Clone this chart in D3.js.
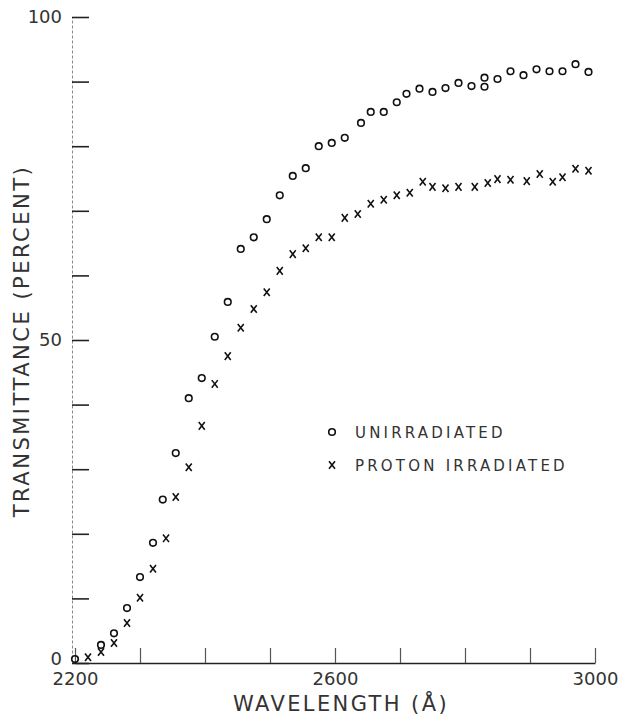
<!DOCTYPE html>
<html>
<head>
<meta charset="utf-8">
<script src="https://cdn.jsdelivr.net/npm/d3@7"></script>
<style>
  body { margin: 0; background: #fff; }
  svg text { font-family: "DejaVu Sans", sans-serif; fill: #333; }
</style>
</head>
<body>
<svg id="chart" width="626" height="723"></svg>
<script>
// wavelength (angstrom) / transmittance (percent)
const unirrWave = [2200, 2240, 2260, 2280, 2300, 2320, 2335, 2355, 2375, 2395,
    2415, 2435, 2455, 2475, 2495, 2515, 2535, 2555, 2575, 2595,
    2615, 2640, 2655, 2675, 2695, 2710, 2730, 2750, 2770, 2790,
    2810, 2830, 2830, 2850, 2870, 2890, 2910, 2930, 2950, 2970, 2990];
const unirrTrans = [0.6, 2.8, 4.6, 8.5, 13.3, 18.6, 25.3, 32.5, 41.0, 44.1,
    50.5, 55.9, 64.1, 65.9, 68.7, 72.4, 75.4, 76.6, 80.0, 80.5,
    81.3, 83.6, 85.3, 85.3, 86.8, 88.1, 88.9, 88.4, 89.0, 89.8,
    89.3, 90.6, 89.2, 90.4, 91.6, 91.0, 91.9, 91.6, 91.6, 92.7, 91.5];

const protonWave = [2220, 2240, 2260, 2280, 2300, 2320, 2340, 2355, 2375, 2395,
    2415, 2435, 2455, 2475, 2495, 2515, 2535, 2555, 2575, 2595,
    2615, 2635, 2655, 2675, 2695, 2715, 2735, 2750, 2770, 2790,
    2815, 2835, 2850, 2870, 2895, 2915, 2935, 2950, 2970, 2990];
const protonTrans = [0.9, 1.7, 3.1, 6.2, 10.1, 14.6, 19.3, 25.7, 30.3, 36.7,
    43.2, 47.5, 51.9, 54.8, 57.4, 60.7, 63.3, 64.2, 65.9, 65.9,
    68.9, 69.5, 71.1, 71.7, 72.4, 72.8, 74.5, 73.7, 73.5, 73.7,
    73.7, 74.3, 74.9, 74.8, 74.6, 75.7, 74.5, 75.2, 76.5, 76.2];

const xTicks = [2200, 2300, 2400, 2500, 2600, 2700, 2800, 2900, 3000];
const xLabels = [2200, 2600, 3000];
const yTicks = [0, 10, 20, 30, 40, 50, 60, 70, 80, 90, 100];
const yLabels = [0, 50, 100];

const legendNames = ["UNIRRADIATED", "PROTON IRRADIATED"];

const svg = d3.select("#chart");

const x = d3.scaleLinear().domain([2200, 3000]).range([75, 595]);
const y = d3.scaleLinear().domain([0, 100]).range([663, 17]);

// x axis, ticks pointing up into the plot
const gx = svg.append("g")
    .attr("transform", `translate(0,${y(0)})`)
    .call(d3.axisBottom(x)
        .tickValues(xTicks)
        .tickSize(-15)
        .tickSizeOuter(0)
        .tickPadding(9)
        .tickFormat(d => xLabels.includes(d) ? d : ""));
gx.select(".domain").attr("stroke", "#222").attr("stroke-width", 1.6);
gx.selectAll(".tick line").attr("stroke", "#555").attr("stroke-width", 1.2);
gx.selectAll(".tick text").attr("font-size", 18).attr("fill", "#333");

// y axis, ticks pointing right, faint dotted spine
const gy = svg.append("g")
    .attr("transform", `translate(${x(2200) - 3},0)`)
    .call(d3.axisLeft(y)
        .tickValues(yTicks)
        .tickSize(-17)
        .tickSizeOuter(0)
        .tickPadding(10)
        .tickFormat(d => yLabels.includes(d) ? d : ""));
gy.select(".domain").attr("stroke", "#888").attr("stroke-width", 1).attr("stroke-dasharray", "3,2");
gy.selectAll(".tick line").attr("stroke", "#222").attr("stroke-width", 1.6);
gy.selectAll(".tick text").attr("font-size", 18).attr("fill", "#333");
// the 0 label sits a little above the x axis so it clears 2200
gy.selectAll(".tick text").filter(d => d === 0).attr("y", -4);

// axis titles
svg.append("text")
    .attr("x", 341).attr("y", 711)
    .attr("text-anchor", "middle")
    .attr("font-size", 21)
    .attr("letter-spacing", 2.4)
    .text("WAVELENGTH  (Å)");

svg.append("text")
    .attr("transform", "translate(29,341) rotate(-90)")
    .attr("text-anchor", "middle")
    .attr("font-size", 21)
    .attr("letter-spacing", 2.5)
    .text("TRANSMITTANCE  (PERCENT)");

// markers
function drawCircle(g, cx, cy) {
    g.append("circle")
        .attr("cx", cx).attr("cy", cy).attr("r", 3.3)
        .attr("fill", "none").attr("stroke", "#111").attr("stroke-width", 1.6);
}

function drawCross(g, cx, cy) {
    g.append("path")
        .attr("d", `M${cx - 3},${cy - 3.8}L${cx + 3},${cy + 3.8}M${cx + 3},${cy - 3.8}L${cx - 3},${cy + 3.8}`)
        .attr("fill", "none").attr("stroke", "#111").attr("stroke-width", 1.6);
}

const marks = svg.append("g");
unirrWave.forEach((w, i) => drawCircle(marks, x(w), y(unirrTrans[i])));
protonWave.forEach((w, i) => drawCross(marks, x(w), y(protonTrans[i])));

// legend
const legend = svg.append("g");
drawCircle(legend, 332, 432);
drawCross(legend, 332, 465);
legend.selectAll("text")
    .data(legendNames)
    .join("text")
    .attr("x", 355)
    .attr("y", (d, i) => 438 + i * 33)
    .attr("font-size", 15)
    .attr("letter-spacing", 3.2)
    .text(d => d);
</script>
</body>
</html>
